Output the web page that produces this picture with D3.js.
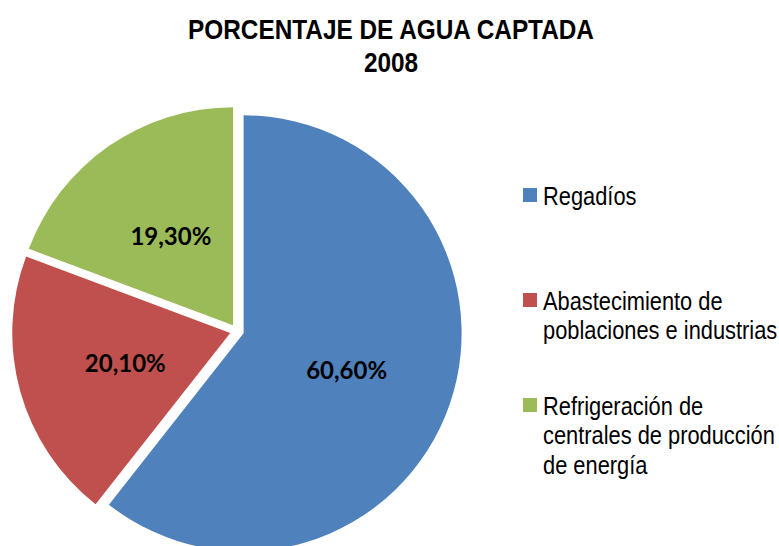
<!DOCTYPE html>
<html lang="es">
<head>
<meta charset="utf-8">
<title>Porcentaje de agua captada 2008</title>
<script src="https://d3js.org/d3.v7.js"></script>
<style>
  body { margin: 0; background: white; }
  text { font-family: "Liberation Sans", Arial, sans-serif; }
</style>
</head>
<body>
<script>
const w = 779;
const h = 546;

const categories = ["Regadíos", "Abastecimiento de poblaciones e industrias", "Refrigeración de centrales de producción de energía"];
const values = [60.6, 20.1, 19.3];
const valueLabels = ["60,60%", "20,10%", "19,30%"];
const legendLines = [["Regadíos"], ["Abastecimiento de", "poblaciones e industrias"], ["Refrigeración de", "centrales de producción", "de energía"]];
const colors = ["#4f81bd", "#c0504d", "#9bbb59"];

const svg = d3.select("body").append("svg")
  .attr("width", w)
  .attr("height", h);

// title (narrow face squeezed from Liberation Sans)
const title = svg.append("g").attr("transform", "translate(391,0) scale(0.87,1)");
title.append("text")
  .attr("y", 39)
  .attr("text-anchor", "middle")
  .attr("font-size", 28).attr("font-weight", "bold")
  .text("PORCENTAJE DE AGUA CAPTADA");
title.append("text")
  .attr("y", 72)
  .attr("text-anchor", "middle")
  .attr("font-size", 28).attr("font-weight", "bold")
  .text("2008");

const cx = 237, cy = 331, r = 218, explode = 7;

const pie = d3.pie().sort(null).value(d => d);
const arcs = pie(values);
const arc = d3.arc().innerRadius(0).outerRadius(r);
const labelArc = d3.arc().innerRadius(r * 0.5).outerRadius(r * 0.5);

const g = svg.append("g").attr("transform", `translate(${cx},${cy})`);

const offset = d => {
  const a = (d.startAngle + d.endAngle) / 2;
  return [Math.sin(a) * explode, -Math.cos(a) * explode];
};

const slice = g.selectAll("g.slice")
  .data(arcs)
  .enter().append("g")
  .attr("class", "slice")
  .attr("transform", d => `translate(${offset(d)})`);

slice.append("path")
  .attr("d", arc)
  .attr("fill", (d, i) => colors[i]);

slice.append("text")
  .attr("transform", d => `translate(${labelArc.centroid(d)})`)
  .attr("text-anchor", "middle")
  .attr("dy", "0.4em")
  .attr("font-size", 24)
  .attr("font-weight", "bold")
  .style("font-family", "Lato, 'Open Sans', sans-serif")
  .text((d, i) => valueLabels[i]);

// legend
const legendY = [188, 293, 398];
const leg = svg.selectAll("g.legend")
  .data(categories)
  .enter().append("g")
  .attr("class", "legend")
  .attr("transform", (d, i) => `translate(523,${legendY[i]})`);

leg.append("rect")
  .attr("width", 14).attr("height", 14)
  .attr("fill", (d, i) => colors[i]);

leg.each(function (d, i) {
  const t = d3.select(this).append("g")
    .attr("transform", "translate(20,0) scale(0.84,1)")
    .append("text")
    .attr("y", 17)
    .attr("font-size", 26);
  legendLines[i].forEach((line, j) => {
    t.append("tspan")
      .attr("x", 0)
      .attr("dy", j === 0 ? 0 : 29.5)
      .text(line);
  });
});
</script>
</body>
</html>
